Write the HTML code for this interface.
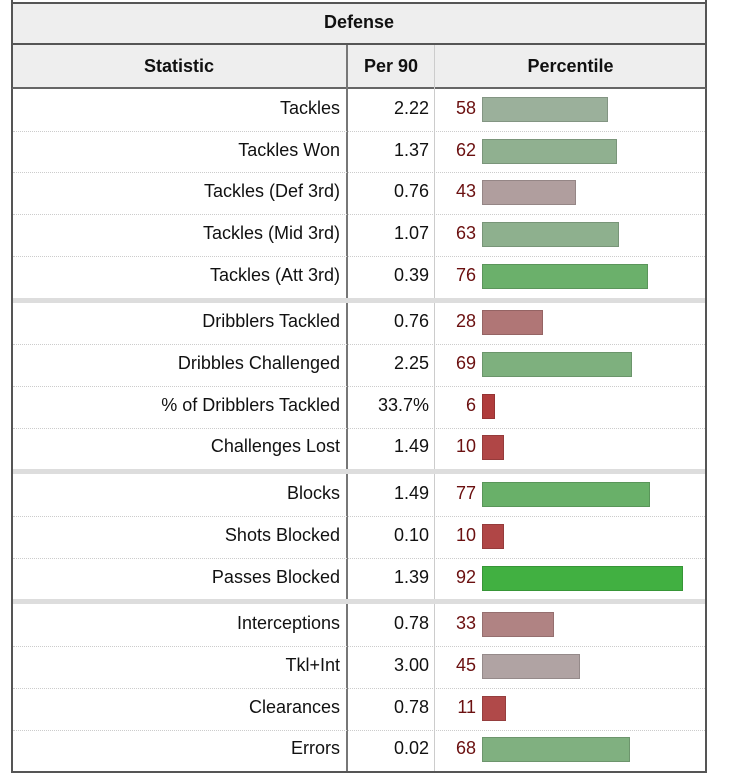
<!DOCTYPE html>
<html><head><meta charset="utf-8">
<style>
body{margin:0;width:730px;height:773px;background:#fff;font-family:"Liberation Sans",sans-serif;position:relative;overflow:hidden}
.a{position:absolute;box-sizing:border-box}
.t{position:absolute;font-size:18px;color:#111;line-height:20px;white-space:nowrap}
</style></head><body>
<div class="a" style="left:11px;top:0;width:696px;height:773px;border-left:2px solid #555;border-right:2px solid #555"></div>
<div class="a" style="left:11px;top:2px;width:696px;height:43px;background:#eee;border:2px solid #555"></div>
<div class="t" style="left:11px;width:696px;text-align:center;top:12px;font-weight:bold">Defense</div>
<div class="a" style="left:11px;top:45px;width:696px;height:44px;background:#eee;border-bottom:2px solid #666;border-left:2px solid #555;border-right:2px solid #555"></div>
<div class="t" style="left:11px;width:336px;text-align:center;top:56px;font-weight:bold">Statistic</div>
<div class="t" style="left:347px;width:88px;text-align:center;top:56px;font-weight:bold">Per 90</div>
<div class="t" style="left:435px;width:271px;text-align:center;top:56px;font-weight:bold">Percentile</div>
<div class="a" style="left:346px;top:45px;width:2px;height:728px;background:#777"></div>
<div class="a" style="left:434px;top:45px;width:1px;height:728px;background:#ccc"></div>
<div id="rows"></div>
<script>
const stats=["Tackles","Tackles Won","Tackles (Def 3rd)","Tackles (Mid 3rd)","Tackles (Att 3rd)","Dribblers Tackled","Dribbles Challenged","% of Dribblers Tackled","Challenges Lost","Blocks","Shots Blocked","Passes Blocked","Interceptions","Tkl+Int","Clearances","Errors"];
const per90=["2.22","1.37","0.76","1.07","0.39","0.76","2.25","33.7%","1.49","1.49","0.10","1.39","0.78","3.00","0.78","0.02"];
const pct=[58,62,43,63,76,28,69,6,10,77,10,92,33,45,11,68];
const groupEnds=[4,8,11];
const root=document.getElementById('rows');
const rowH=41.7, sepH=5, barX=482, scale=2.18;
function col(p){
  let r,g,b;
  if(p>=50){g=176;r=b=Math.round(176-(p-50)*2.64);}
  else{r=176;g=b=Math.round(176-(50-p)*2.64);}
  return `rgb(${r},${g},${b})`;
}
let y=89;
for(let i=0;i<stats.length;i++){
  const cy=y+rowH/2;
  const l=document.createElement('div');l.className='t';
  
  
  l.style.cssText=`right:${730-340}px;top:${cy-12}px`;l.textContent=stats[i];root.appendChild(l);
  const v=document.createElement('div');v.className='t';
  
  
  v.style.cssText=`right:${730-429}px;top:${cy-12}px`;v.textContent=per90[i];root.appendChild(v);
  const pv=document.createElement('div');pv.className='t';
  
  
  pv.style.cssText=`right:${730-476}px;top:${cy-12}px;color:#6b1010`;pv.textContent=pct[i];root.appendChild(pv);
  const b=document.createElement('div');b.className='a';
  
  
  b.style.cssText=`left:${barX}px;top:${cy-13}px;width:${pct[i]*scale}px;height:25px;background:${col(pct[i])};border:1px solid rgba(0,0,0,0.15)`;
  root.appendChild(b);
  y+=rowH;
  if(groupEnds.includes(i)){
    const s=document.createElement('div');s.className='a';
    
    
    s.style.cssText=`left:13px;top:${y}px;width:692px;height:${sepH}px;background:#ddd`;root.appendChild(s);
    y+=sepH;
  } else if(i<stats.length-1){
    const s=document.createElement('div');s.className='a';
    
    
    s.style.cssText=`left:13px;top:${y}px;width:692px;height:0;border-top:1px dotted #ccc`;root.appendChild(s);
  }
}
const bt=document.createElement('div');bt.className='a';


bt.style.cssText=`left:11px;top:${Math.min(y,771)}px;width:696px;height:2px;background:#555`;root.appendChild(bt);
</script>
</body></html>
